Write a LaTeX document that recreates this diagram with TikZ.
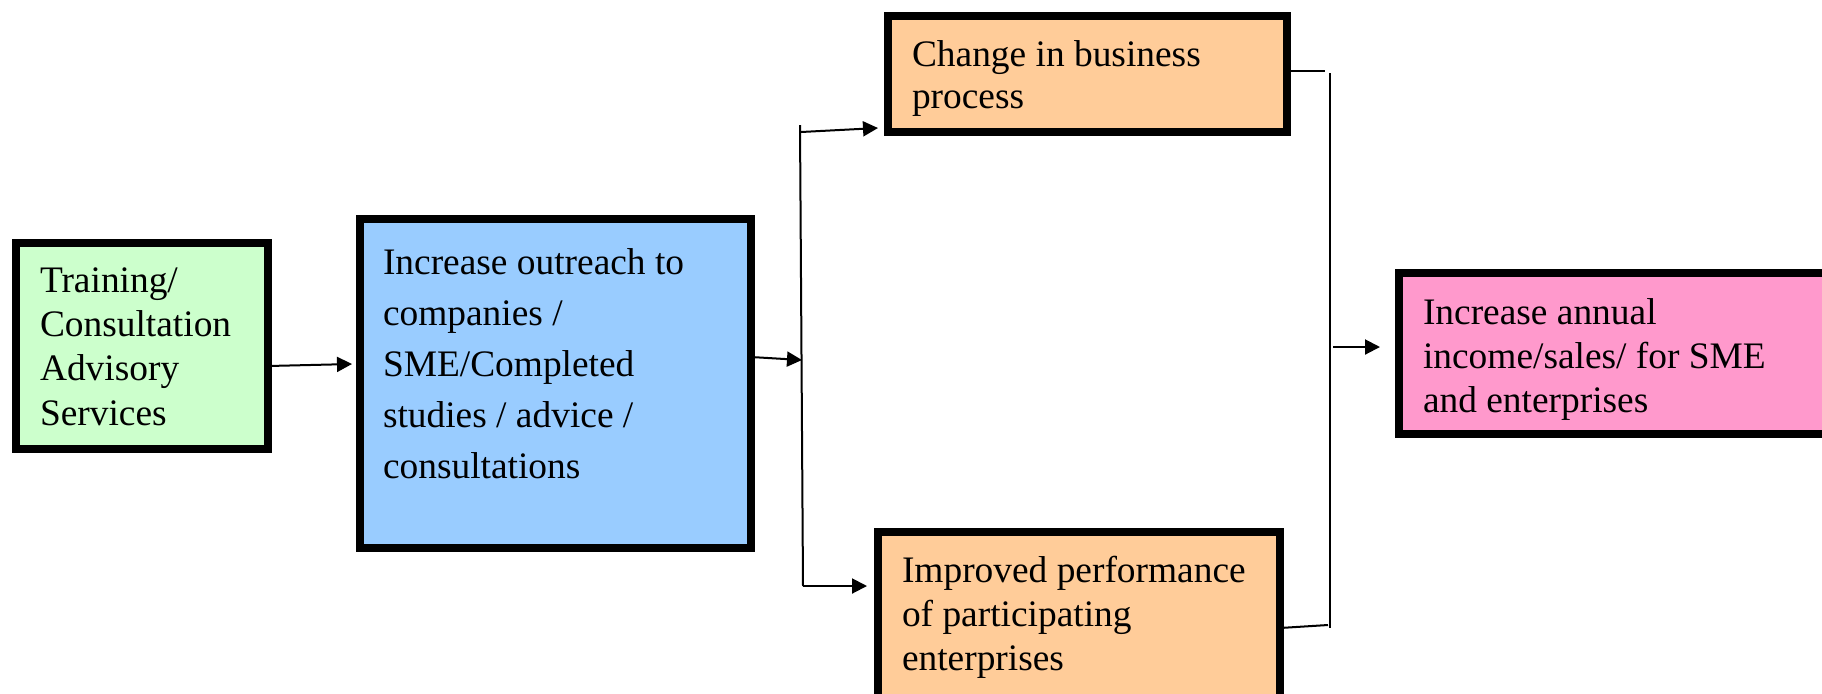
\documentclass[tikz,border=0pt]{standalone}
\usepackage{fontspec}
\setmainfont{Liberation Serif}
\usetikzlibrary{arrows.meta}
\definecolor{boxgreen}{HTML}{CCFFCC}
\definecolor{boxblue}{HTML}{99CCFF}
\definecolor{boxorange}{HTML}{FFCC99}
\definecolor{boxpink}{HTML}{FF99CC}
\newcommand\boxlines[2]{\parbox[t]{260pt}{\raggedright\fontsize{18.7pt}{#1}\selectfont #2}}
\begin{document}
\begin{tikzpicture}[x=0.5pt,y=-0.5pt,
  box/.style={draw=black, line width=4pt, inner sep=0pt, outer sep=0pt},
  lbl/.style={anchor=base west, inner sep=0pt, outer sep=0pt},
  conn/.style={line width=1pt},
  arr/.style={conn, -{Triangle[length=7.5pt,width=7.5pt]}}]
\useasboundingbox (0,0) rectangle (1822,693);
\clip (0,0) rectangle (1822,693);
\fill[white] (0,0) rectangle (1822,693);
% boxes
\node[box, fill=boxgreen, minimum width=126pt, minimum height=103pt] (g) at (142,346) {};
\node[box, fill=boxblue, minimum width=195.5pt, minimum height=164.5pt] (b) at (555.5,383.5) {};
\node[box, fill=boxorange, minimum width=199.5pt, minimum height=58pt] (o1) at (1087.5,74) {};
\node[box, fill=boxorange, minimum width=201pt, minimum height=102pt] (o2) at (1079,634) {};
\node[box, fill=boxpink, minimum width=228.5pt, minimum height=80.5pt] (p) at (1627.5,353.5) {};
% texts
\node[lbl] (gt) at (40,292) {\boxlines{22.2pt}{Training/\\Consultation\\Advisory\\Services}};
\node[lbl] (bt) at (383,274) {\boxlines{25.5pt}{Increase outreach to\\companies /\\SME/Completed\\studies / advice /\\consultations}};
\node[lbl] (o1t) at (912,66) {\boxlines{21pt}{Change in business\\process}};
\node[lbl] (o2t) at (902,582) {\boxlines{22pt}{Improved performance\\of participating\\enterprises}};
\node[lbl] (pt) at (1423,324) {\boxlines{22.2pt}{Increase annual\\income/sales/ for SME\\and enterprises}};
% connector points
\coordinate (smid) at (802,360);
\coordinate (stop) at (800,125);
\coordinate (sbot) at (803,586);
\coordinate (s1) at (801,132);
\coordinate (rtop) at (1325,71);
\coordinate (rv1) at (1330,73);
\coordinate (rv2) at (1330,628);
\coordinate (rbot) at (1328,625);
\coordinate (rmid) at (1333,347);
% connectors
\draw[arr] ([yshift=-10pt]g.east) -- ([xshift=-4pt,yshift=9.75pt]b.west);
\draw[arr] ([yshift=13.25pt]b.east) -- (smid);
\draw[conn] (stop) -- (sbot);
\draw[arr] (s1) -- ([xshift=-5pt,yshift=-27pt]o1.west);
\draw[arr] (sbot) -- ([xshift=-5.5pt,yshift=24pt]o2.west);
\draw[conn] ([yshift=1.5pt]o1.east) -- (rtop);
\draw[conn] (rv1) -- (rv2);
\draw[conn] ([yshift=3pt]o2.east) -- (rbot);
\draw[arr] (rmid) -- ([xshift=-9.5pt,yshift=3.25pt]p.west);
\end{tikzpicture}
\end{document}
